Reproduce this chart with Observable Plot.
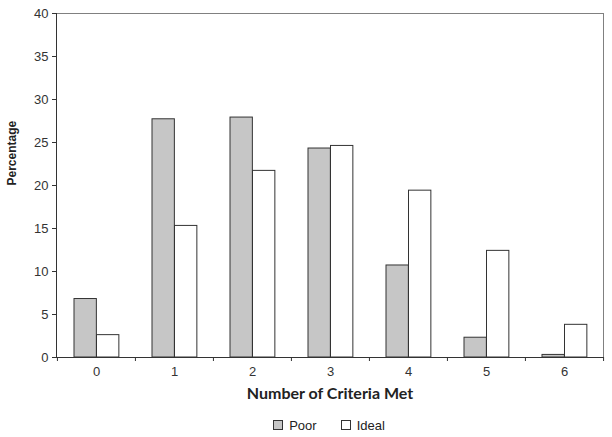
<!DOCTYPE html>
<html><head><meta charset="utf-8">
<script src="https://cdn.jsdelivr.net/npm/d3@7"></script>
<script src="https://cdn.jsdelivr.net/npm/@observablehq/plot@0.6"></script>
<style>
body{margin:0;background:#fff;font-family:"Liberation Sans",Arial,sans-serif;}
#legend{display:flex;justify-content:center;align-items:center;height:20px;margin-top:3px;font-size:13px;color:#222;padding-left:46px;}
#legend .sw{display:inline-block;width:8px;height:8px;border:1px solid #333;margin-right:6px;box-sizing:content-box;}
#legend .item{display:inline-flex;align-items:center;margin:0 12px;}
</style></head><body><div id="chart"></div><div id="legend"></div><script>
const categories = [0, 1, 2, 3, 4, 5, 6];
const poor = [6.8, 27.7, 27.9, 24.3, 10.7, 2.3, 0.3];
const ideal = [2.6, 15.3, 21.7, 24.6, 19.4, 12.4, 3.8];
const series = ["Poor", "Ideal"];
const seriesColors = ["#c6c6c6", "#ffffff"];
const yTicks = [0, 5, 10, 15, 20, 25, 30, 35, 40];
const xTitle = "Number of Criteria Met";
const yTitle = "Percentage";

const W = 612, H = 412, mL = 56, mR = 9, mT = 13, mB = 55;
const bw = (W - mL - mR) / categories.length;

const poorRows = categories.map((c, i) => ({cat: c, value: poor[i]}));
const idealRows = categories.map((c, i) => ({cat: c, value: ideal[i]}));

const chart = Plot.plot({
  width: W, height: H,
  marginLeft: mL, marginRight: mR, marginTop: mT, marginBottom: mB,
  style: {fontFamily: "Liberation Sans, Arial, sans-serif", fontSize: "13px", color: "#333", background: "#fff"},
  x: {type: "band", domain: categories, paddingInner: 0, paddingOuter: 0},
  y: {domain: [0, 40]},
  marks: [
    Plot.frame({stroke: "#808080"}),
    Plot.barY(poorRows, {x: "cat", y: "value", fill: seriesColors[0], stroke: "#333", strokeWidth: 1, insetLeft: 17, insetRight: bw - 39.5}),
    Plot.barY(idealRows, {x: "cat", y: "value", fill: seriesColors[1], stroke: "#333", strokeWidth: 1, insetLeft: 39.5, insetRight: bw - 62}),
    Plot.ruleY([0], {stroke: "#333"}),
    Plot.frame({anchor: "left", stroke: "#333"}),
    Plot.axisY({ticks: yTicks, tickSize: 4, tickPadding: 4, label: null, stroke: "#333"}),
    Plot.axisX({tickSize: 0, tickPadding: 9, label: null}),
    Plot.axisX({tickSize: 4, tickFormat: () => "", label: null, dx: -bw / 2, stroke: "#333"}),
    Plot.axisX({ticks: [categories[categories.length - 1]], tickSize: 4, tickFormat: () => "", label: null, dx: bw / 2, stroke: "#333"}),
    Plot.text([xTitle], {frameAnchor: "bottom", dy: 41, fontWeight: "bold", fontSize: 16, fontFamily: "Lato, Open Sans, sans-serif", fill: "#222"}),
    Plot.text([yTitle], {frameAnchor: "left", dx: -44, rotate: -90, fontWeight: "bold", fontSize: 12, fill: "#222"})
  ]
});
d3.select(chart).selectAll('g[aria-label*="tick label"]').attr("font-size", 13).style("font-size", "13px");
d3.select(chart).selectAll('g[aria-label*="tick label"] text').style("font-size", "13px");
document.getElementById("chart").appendChild(chart);

const legend = document.getElementById("legend");
series.forEach((s, i) => {
  const item = document.createElement("span");
  item.className = "item";
  const sw = document.createElement("span");
  sw.className = "sw";
  sw.style.background = seriesColors[i];
  item.appendChild(sw);
  item.appendChild(document.createTextNode(s));
  legend.appendChild(item);
});
</script></body></html>
